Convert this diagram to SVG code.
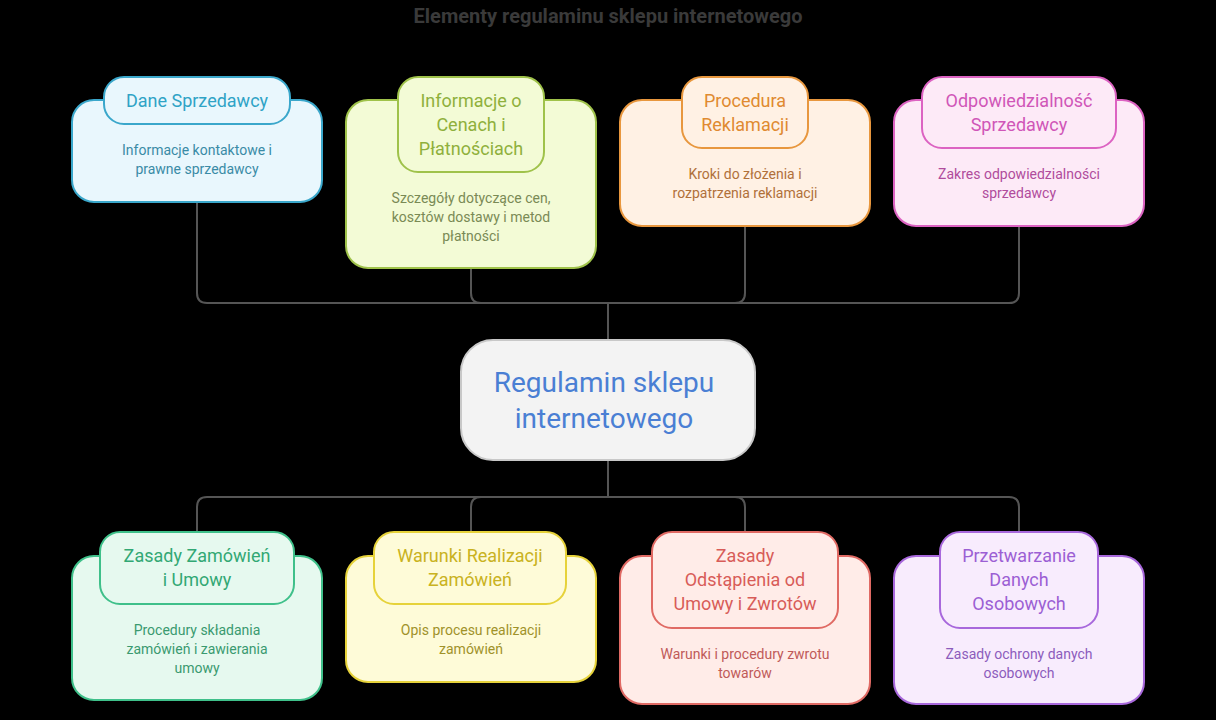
<svg xmlns="http://www.w3.org/2000/svg" width="1216" height="720" viewBox="0 0 1216 720">
<style>
text{font-family:Roboto,"Liberation Sans",sans-serif;text-anchor:middle}
.t{font-size:18px}.d{font-size:14px}
.c{fill:none;stroke:#555;stroke-width:2}
</style>
<rect width="1216" height="720" fill="#000"/>
<text x="608" y="23" style="font-size:20px;font-weight:bold;fill:#3a3a3a">Elementy regulaminu sklepu internetowego</text>
<g id="connectors">
<path class="c" d="M197 202V293q0 10 10 10H1009q10 0 10-10V226M471 268V293q0 10 10 10M745 226V293q0 10-10 10M608 303V340"/>
<path class="c" d="M608 460V497M207 497H1009q10 0 10 10V556M197 532V507q0-10 10-10M471 532V507q0-10 10-10M745 532V507q0-10-10-10"/>
</g>
<g id="center"><rect x="461" y="340" width="294" height="120" rx="32" fill="#f3f3f3" stroke="#c8c8c8" stroke-width="2"/>
<text x="604" y="392" style="font-size:28px;fill:#4a7fd4">Regulamin sklepu</text><text x="604" y="428" style="font-size:28px;fill:#4a7fd4">internetowego</text></g>
<g id="n1"><rect x="72" y="100" width="250" height="102" rx="22" fill="#e9f7fd" stroke="#3aa7cb" stroke-width="2"/>
<rect x="104" y="77" width="186" height="47" rx="20" fill="#e9f7fd" stroke="#3aa7cb" stroke-width="2"/>
<text class="t" x="197" y="107" fill="#2fa3c6">Dane Sprzedawcy</text>
<text class="d" x="197" y="155" fill="#3a8ba6">Informacje kontaktowe i</text><text class="d" x="197" y="174" fill="#3a8ba6">prawne sprzedawcy</text></g>
<g id="n2"><rect x="346" y="100" width="250" height="168" rx="22" fill="#f3fbd6" stroke="#9fc24a" stroke-width="2"/>
<rect x="398" y="77" width="146" height="95" rx="20" fill="#f3fbd6" stroke="#9fc24a" stroke-width="2"/>
<text class="t" x="471" y="107" fill="#8fb03c">Informacje o</text><text class="t" x="471" y="131" fill="#8fb03c">Cenach i</text><text class="t" x="471" y="155" fill="#8fb03c">Płatnościach</text>
<text class="d" x="471" y="203" fill="#7a8a55">Szczegóły dotyczące cen,</text><text class="d" x="471" y="222" fill="#7a8a55">kosztów dostawy i metod</text><text class="d" x="471" y="241" fill="#7a8a55">płatności</text></g>
<g id="n3"><rect x="620" y="100" width="250" height="126" rx="22" fill="#fff1e4" stroke="#e8973e" stroke-width="2"/>
<rect x="682" y="77" width="126" height="71" rx="20" fill="#fff1e4" stroke="#e8973e" stroke-width="2"/>
<text class="t" x="745" y="107" fill="#e08a30">Procedura</text><text class="t" x="745" y="131" fill="#e08a30">Reklamacji</text>
<text class="d" x="745" y="179" fill="#b0703a">Kroki do złożenia i</text><text class="d" x="745" y="198" fill="#b0703a">rozpatrzenia reklamacji</text></g>
<g id="n4"><rect x="894" y="100" width="250" height="126" rx="22" fill="#fdeaf7" stroke="#dc63c2" stroke-width="2"/>
<rect x="922" y="77" width="194" height="71" rx="20" fill="#fdeaf7" stroke="#dc63c2" stroke-width="2"/>
<text class="t" x="1019" y="107" fill="#d056b8">Odpowiedzialność</text><text class="t" x="1019" y="131" fill="#d056b8">Sprzedawcy</text>
<text class="d" x="1019" y="179" fill="#b04c9c">Zakres odpowiedzialności</text><text class="d" x="1019" y="198" fill="#b04c9c">sprzedawcy</text></g>
<g id="n5"><rect x="72" y="556" width="250" height="144" rx="22" fill="#e6f9ef" stroke="#3fc08a" stroke-width="2"/>
<rect x="100" y="532" width="194" height="72" rx="20" fill="#e6f9ef" stroke="#3fc08a" stroke-width="2"/>
<text class="t" x="197" y="562" fill="#32a874">Zasady Zamówień</text><text class="t" x="197" y="586" fill="#32a874">i Umowy</text>
<text class="d" x="197" y="635" fill="#3a9a70">Procedury składania</text><text class="d" x="197" y="654" fill="#3a9a70">zamówień i zawierania</text><text class="d" x="197" y="673" fill="#3a9a70">umowy</text></g>
<g id="n6"><rect x="346" y="556" width="250" height="126" rx="22" fill="#fefbd8" stroke="#e6d23a" stroke-width="2"/>
<rect x="374" y="532" width="192" height="72" rx="20" fill="#fefbd8" stroke="#e6d23a" stroke-width="2"/>
<text class="t" x="470" y="562" fill="#c9b221">Warunki Realizacji</text><text class="t" x="470" y="586" fill="#c9b221">Zamówień</text>
<text class="d" x="471" y="635" fill="#a0922a">Opis procesu realizacji</text><text class="d" x="471" y="654" fill="#a0922a">zamówień</text></g>
<g id="n7"><rect x="620" y="556" width="250" height="148" rx="22" fill="#ffece8" stroke="#e06a64" stroke-width="2"/>
<rect x="652" y="532" width="186" height="96" rx="20" fill="#ffece8" stroke="#e06a64" stroke-width="2"/>
<text class="t" x="745" y="562" fill="#d85c58">Zasady</text><text class="t" x="745" y="586" fill="#d85c58">Odstąpienia od</text><text class="t" x="745" y="610" fill="#d85c58">Umowy i Zwrotów</text>
<text class="d" x="745" y="659" fill="#c05a58">Warunki i procedury zwrotu</text><text class="d" x="745" y="678" fill="#c05a58">towarów</text></g>
<g id="n8"><rect x="894" y="556" width="250" height="148" rx="22" fill="#f8ecfd" stroke="#a868dc" stroke-width="2"/>
<rect x="940" y="532" width="158" height="96" rx="20" fill="#f8ecfd" stroke="#a868dc" stroke-width="2"/>
<text class="t" x="1019" y="562" fill="#9c5fd4">Przetwarzanie</text><text class="t" x="1019" y="586" fill="#9c5fd4">Danych</text><text class="t" x="1019" y="610" fill="#9c5fd4">Osobowych</text>
<text class="d" x="1019" y="659" fill="#8c5cbc">Zasady ochrony danych</text><text class="d" x="1019" y="678" fill="#8c5cbc">osobowych</text></g>
</svg>
